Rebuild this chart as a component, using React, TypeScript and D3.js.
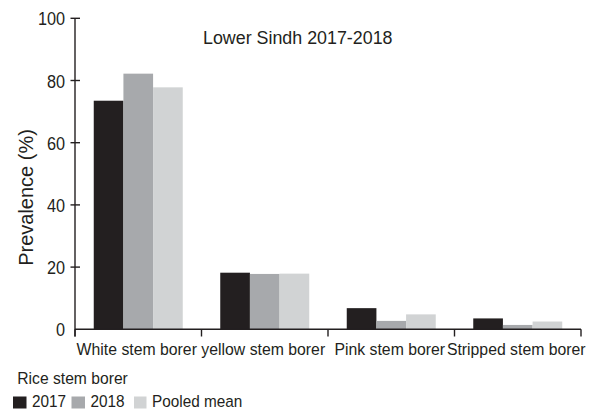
import React from "react";
import * as d3 from "d3";

// Rice stem borer prevalence, Lower Sindh
const categories = ["White stem borer", "yellow stem borer", "Pink stem borer", "Stripped stem borer"];
const seriesNames = ["2017", "2018", "Pooled mean"];
const values2017 = [73.5, 18.2, 6.8, 3.5];
const values2018 = [82.2, 17.8, 2.7, 1.4];
const valuesPooled = [77.8, 17.9, 4.8, 2.5];
const yTicks = [0, 20, 40, 60, 80, 100];
const seriesColors = ["#231f20", "#a7a9ac", "#d1d3d4"];

const chartTitle = "Lower Sindh 2017-2018";
const yTitle = "Prevalence (%)";
const legendTitle = "Rice stem borer";

const W = 599;
const H = 412;
const FONT = "'Liberation Sans', Arial, Helvetica, sans-serif";
const INK = "#231f20";
const SX = 0.93; // narrow glyph width used throughout the figure

export default function App() {
  const seriesValues = [values2017, values2018, valuesPooled];

  const x0 = d3.scaleBand<string>().domain(categories).range([75, 581]).paddingInner(0).paddingOuter(0);
  const groupW = 89;
  const x1 = d3.scaleBand<string>().domain(seriesNames).range([0, groupW]).padding(0);
  const y = d3.scaleLinear().domain([0, 100]).range([329.3, 18.3]);

  const groupOffset = (x0.bandwidth() - groupW) / 2;
  const boundaries = [...categories.map((c) => x0(c) as number), x0.range()[1]];

  const legendX = [13, 71.5, 134];
  const legendW = [13.5, 13.5, 12.5];

  return (
    <svg
      width={W}
      height={H}
      viewBox={`0 0 ${W} ${H}`}
      style={{ position: "absolute", left: 0, top: 0, background: "#fff" }}
      fontFamily={FONT}
    >
      <rect x={0} y={0} width={W} height={H} fill="#fff" />

      {/* bars */}
      {categories.map((cat, ci) => (
        <g key={cat} transform={`translate(${(x0(cat) as number) + groupOffset},0)`}>
          {seriesNames.map((s, si) => {
            const v = seriesValues[si][ci];
            return (
              <rect
                key={s}
                x={x1(s) as number}
                y={y(v)}
                width={x1.bandwidth()}
                height={y(0) - y(v)}
                fill={seriesColors[si]}
              />
            );
          })}
        </g>
      ))}

      {/* y axis */}
      <line x1={75} x2={75} y1={y(100)} y2={336.5} stroke={INK} strokeWidth={1.4} />
      {yTicks.map((t) => (
        <g key={t}>
          {t > 0 && <line x1={70.5} x2={80} y1={y(t)} y2={y(t)} stroke={INK} strokeWidth={1.4} />}
          <text
            transform={`translate(65,${y(t) + 7}) scale(${SX},1)`}
            textAnchor="end"
            fontSize={17.5}
            fill={INK}
          >
            {t}
          </text>
        </g>
      ))}

      {/* x axis */}
      <line x1={75} x2={581} y1={y(0)} y2={y(0)} stroke={INK} strokeWidth={1.4} />
      {boundaries.map((b, i) => (
        <line key={i} x1={b} x2={b} y1={y(0)} y2={336.5} stroke={INK} strokeWidth={1.4} />
      ))}
      {categories.map((cat) => (
        <text
          key={cat}
          transform={`translate(${(x0(cat) as number) + x0.bandwidth() / 2 - 1.5},355) scale(${SX},1)`}
          textAnchor="middle"
          fontSize={17}
          fill={INK}
        >
          {cat}
        </text>
      ))}

      {/* titles */}
      <text transform={`translate(203,44) scale(0.94,1)`} fontSize={19} fill={INK}>
        {chartTitle}
      </text>
      <text
        transform={`translate(32.5,197.5) rotate(-90)`}
        textAnchor="middle"
        fontSize={20}
        fill={INK}
      >
        {yTitle}
      </text>

      {/* legend */}
      <text transform={`translate(17.3,384) scale(0.95,1)`} fontSize={16.5} fill={INK}>
        {legendTitle}
      </text>
      {seriesNames.map((s, i) => (
        <g key={s}>
          <rect x={legendX[i]} y={396.5} width={legendW[i]} height={12} fill={seriesColors[i]} />
          <text
            transform={`translate(${legendX[i] + legendW[i] + 5.5},406.7) scale(${SX},1)`}
            fontSize={16.5}
            fill={INK}
          >
            {s}
          </text>
        </g>
      ))}
    </svg>
  );
}
